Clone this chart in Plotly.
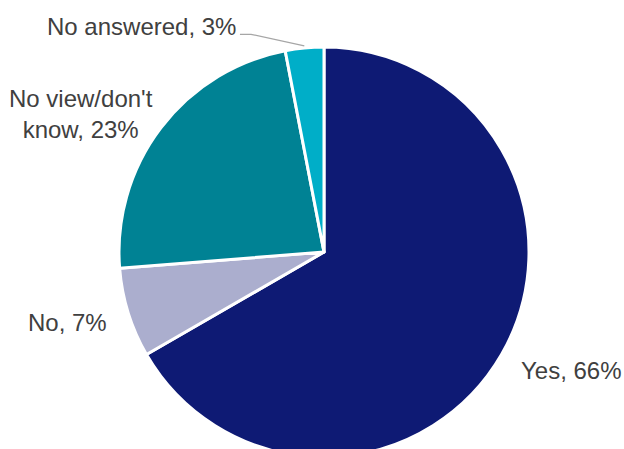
import math
import plotly.graph_objects as go

# Survey responses (percent)
labels = ["Yes", "No", "No view/don't<br>know", "No answered"]
values = [66, 7, 23, 3]
colors = ["#0E1A74", "#ABAECE", "#008294", "#00AEC8"]

# Label anchor positions in paper coordinates (text centres)
label_pos = [(1.104, 0.212), (-0.126, 0.329), (-0.093, 0.837), (0.054, 1.050)]

FONT = dict(family="Liberation Sans, Arial, sans-serif", size=24, color="#404040")

fig = go.Figure(
    go.Pie(
        labels=labels,
        values=values,
        sort=False,
        direction="clockwise",
        rotation=0,
        marker=dict(colors=colors, line=dict(color="#FFFFFF", width=3)),
        textinfo="none",
        hoverinfo="label+value",
        automargin=False,
    )
)

annotations = []
shapes = []
total = sum(values)
cum = 0
for lab, val, (px, py) in zip(labels, values, label_pos):
    mid = (cum + val / 2) / total * 2 * math.pi
    cum += val
    annotations.append(dict(
        x=px, y=py, xref="paper", yref="paper",
        text=f"{lab}, {val}%", font=FONT, showarrow=False,
        xanchor="center", yanchor="middle", align="center",
    ))
    if lab == "No answered":
        # bent leader line from the label to the slice edge
        ex = 0.5 + 0.505 * math.sin(mid)
        ey = 0.5 + 0.505 * math.cos(mid)
        shapes.append(dict(
            type="path", xref="paper", yref="paper",
            path=f"M 0.295 1.031 L 0.322 1.031 L {ex:.4f} {ey:.4f}",
            line=dict(color="#A6A6A6", width=1.3),
        ))

fig.update_layout(
    width=624,
    height=460,
    margin=dict(l=119, r=95, t=47, b=3),
    showlegend=False,
    paper_bgcolor="#FFFFFF",
    plot_bgcolor="#FFFFFF",
    annotations=annotations,
    shapes=shapes,
)

fig.write_html(
    "out.html",
    post_script="document.documentElement.style.overflow='hidden';document.body.style.overflow='hidden';",
)
